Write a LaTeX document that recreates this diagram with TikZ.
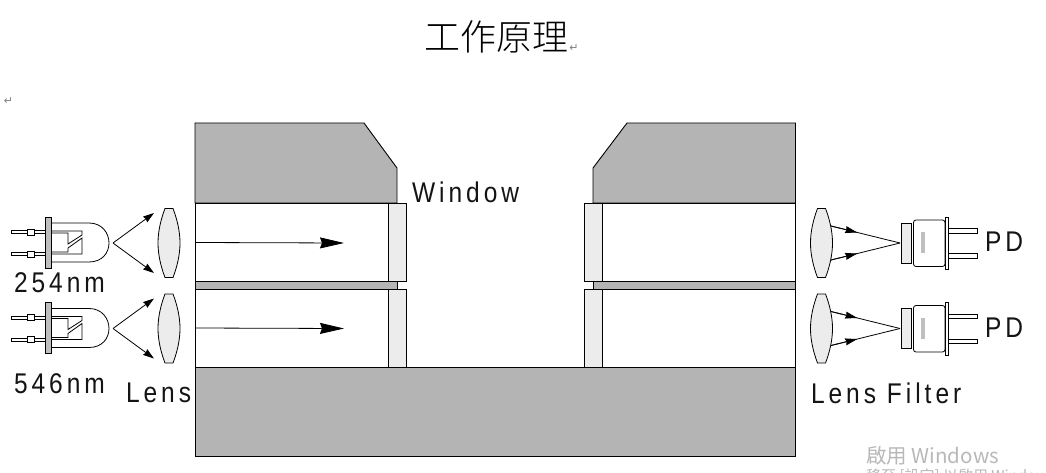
\documentclass[tikz,border=0pt]{standalone}
\usepackage{fontspec}
\usetikzlibrary{arrows.meta,calc}
\newfontfamily\labfont[FakeStretch=0.86,LetterSpace=14]{Liberation Sans}
\newfontfamily\cjktitle{Noto Sans CJK SC Light}
\newfontfamily\cjkwin{Noto Sans CJK TC}
\newfontfamily\symfont{DejaVu Sans}
\definecolor{blockgray}{HTML}{B3B4B3}
\definecolor{glassgray}{HTML}{ECECEC}
\definecolor{flangegray}{HTML}{BEBFBE}
\tikzset{
  x=1pt,y=-1pt,
  edge/.style={draw=black,line width=0.9pt,line join=miter},
  thin edge/.style={draw=black,line width=0.8pt},
  block/.style={edge,fill=blockgray},
  channel/.style={edge,fill=white},
  glass/.style={edge,fill=glassgray},
  lab/.style={anchor=base west,inner sep=0pt,outer sep=0pt,font=\labfont\fontsize{28.5}{28.5}\selectfont,text=black!92},
  parmark/.style={inner sep=0pt,font=\symfont\fontsize{11}{11}\selectfont,text=black!50},
  watermark/.style={anchor=base west,inner sep=0pt,text=black!28},
  beam/.style={draw=black,line width=0.8pt},
  bighead/.style={-{Stealth[length=24pt,width=11pt,inset=2pt]},draw=black,line width=0.8pt},
  smallhead/.style={-{Stealth[length=11pt,width=7pt,inset=1pt]},draw=black,line width=0.8pt},
  midhead/.style={-{Stealth[length=12pt,width=7pt,inset=1pt]},draw=black,line width=0.8pt},
  lensshape/.pic={
    \path[thin edge,fill=glassgray] (-4,-34.5) -- (4,-34.5)
      .. controls (8,-24) and (11,-12) .. (11,0)
      .. controls (11,12) and (8,24) .. (4,34.5) -- (-4,34.5)
      .. controls (-8,24) and (-11,12) .. (-11,0)
      .. controls (-11,-12) and (-8,-24) .. (-4,-34.5) -- cycle;
  },
  ledshape/.pic={
    \path[thin edge,fill=white] (11,-12.5) rectangle (45,-9.5);
    \path[thin edge,fill=white] (11,9.5) rectangle (45,12.5);
    \path[thin edge,fill=white] (27,-14) rectangle (34,-8);
    \path[thin edge,fill=white] (27,8) rectangle (34,14);
    \path[thin edge,fill=white] (51,-20) -- (89,-20) .. controls (102,-20) and (109,-10) .. (109,0)
       .. controls (109,10) and (102,19) .. (89,19) -- (51,19);
    \path[thin edge] (51,-12) -- (82,-12) -- (82,-8) -- (68,1) -- (68,-10) -- (51,-10);
    \path[thin edge] (51,11) -- (82,11) -- (82,-5) -- (68,5) -- (68,9) -- (51,9);
    \path[thin edge,fill=flangegray] (45,-26) rectangle (51,25);
  },
  pdshape/.pic={
    \path[thin edge,fill=glassgray] (901,-20) rectangle (911,20);
    \path[thin edge,fill=white,rounded corners=2.5pt] (913.5,-23) rectangle (945,23.5);
    \path[fill=flangegray] (921,-11) rectangle (925,10);
    \path[thin edge,fill=white] (948.5,-14.5) rectangle (977,-10);
    \path[thin edge,fill=white] (948.5,10.5) rectangle (977,15);
    \path[thin edge,fill=white] (945,-26) rectangle (948.5,26.5);
  }
}
\begin{document}
\begin{tikzpicture}
\useasboundingbox (0,0) rectangle (1046,473);
\clip (0,0) rectangle (1046,473);

% housing
\path[block] (195,123) -- (364,123) -- (397,168) -- (397,203) -- (195,203) -- cycle;
\path[block] (795.5,123) -- (627,123) -- (593,168) -- (593,203) -- (795.5,203) -- cycle;
\path[channel] (195,203) rectangle (388,281);
\path[channel] (195,289) rectangle (388,367);
\path[channel] (602,203) rectangle (795.5,281);
\path[channel] (602,289) rectangle (795.5,367);
\path[block] (195,281) rectangle (397,289);
\path[block] (593,281) rectangle (795.5,289);
\path[glass] (388,203) rectangle (406,281);
\path[glass] (388,289) rectangle (406,367);
\path[glass] (584,203) rectangle (602,281);
\path[glass] (584,289) rectangle (602,367);
\path[block] (195,367) rectangle (795.5,456);

% LEDs, lenses, detectors
\path (0,243) pic {ledshape};
\path (0,328.5) pic {ledshape};
\path (169,243) pic {lensshape};
\path (169,328.5) pic {lensshape};
\path (821.5,243) pic {lensshape};
\path (821.5,328.5) pic {lensshape};
\path (0,243) pic {pdshape};
\path (0,328.5) pic {pdshape};

% beam coordinates
\coordinate (chA) at (195,242.5);
\coordinate (chAend) at (344,243);
\coordinate (chB) at (195,328);
\coordinate (chBend) at (344,328.5);
\coordinate (ledA) at (113,243);
\coordinate (ledAup) at (154,213);
\coordinate (ledAdn) at (154,273);
\coordinate (ledB) at (113,328.5);
\coordinate (ledBup) at (154,298.5);
\coordinate (ledBdn) at (154,358.5);
\coordinate (focA) at (900,243);
\coordinate (focAup) at (831,226);
\coordinate (focAdn) at (831,260);
\coordinate (focB) at (900,328.5);
\coordinate (focBup) at (831,311.5);
\coordinate (focBdn) at (831,345.5);

\draw[bighead] (chA) -- (chAend);
\draw[bighead] (chB) -- (chBend);
\foreach \s/\e in {ledA/ledAup,ledA/ledAdn,ledB/ledBup,ledB/ledBdn}{
  \draw[smallhead] (\s) -- (\e);
}
\foreach \s/\e in {focAup/focA,focAdn/focA,focBup/focB,focBdn/focB}{
  \draw[beam] (\s) -- (\e);
  \draw[midhead] (\s) -- ($(\s)!0.38!(\e)$);
}

% labels
\node[anchor=base west,inner sep=0pt,font=\cjktitle\fontsize{36}{36}\selectfont] (title) at (424,51) {工作原理};
\node[parmark] (markA) at (574,48.5) {↵};
\node[parmark] (markB) at (8.5,101) {↵};
\node[lab] (wl1) at (14,292.5) {254nm};
\node[lab] (wl2) at (14,393.5) {546nm};
\node[lab] (lensL) at (126,402) {Lens};
\node[lab] (win) at (412,203) {Window};
\node[lab] (lensR) at (811,403) {Lens Filter};
\node[lab] (pd1) at (985,251.5) {PD};
\node[lab] (pd2) at (985,337.5) {PD};

% watermark
\node[watermark,font=\cjkwin\fontsize{20.5}{20.5}\selectfont] (wm1) at (866,463) {啟用 Windows};
\node[watermark,font=\cjkwin\fontsize{15}{15}\selectfont] (wm2) at (866,481) {移至 [設定] 以啟用 Windows};
\end{tikzpicture}
\end{document}
